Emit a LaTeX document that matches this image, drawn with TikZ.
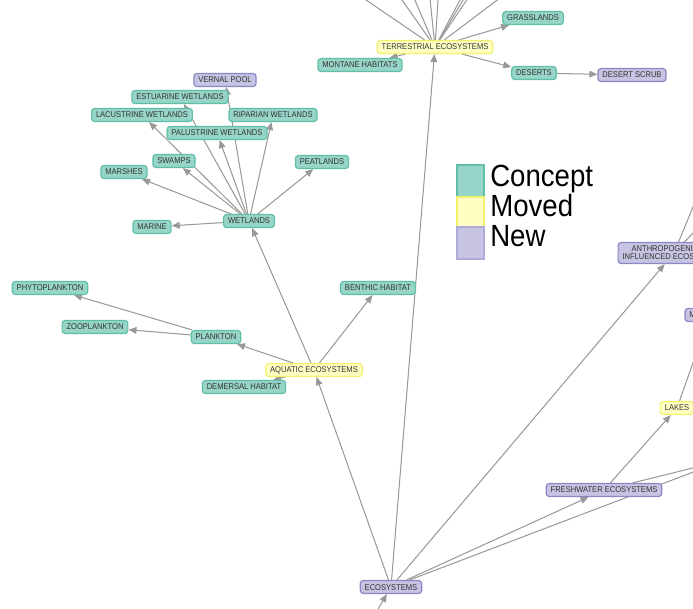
\documentclass[tikz,border=0pt]{standalone}
\usepackage{fontspec}
\newfontfamily\nodefont[FakeStretch=0.9]{Liberation Sans}
\usetikzlibrary{arrows.meta,backgrounds}
\definecolor{conceptfill}{HTML}{97D5C8}
\definecolor{conceptline}{HTML}{5FBFA7}
\definecolor{movedfill}{HTML}{FFFFC4}
\definecolor{movedline}{HTML}{F2F26A}
\definecolor{addedfill}{HTML}{C6C4E2}
\definecolor{addedline}{HTML}{8C88C4}
\definecolor{edgegray}{HTML}{999999}
\definecolor{labeltext}{HTML}{333333}
\begin{document}
\begin{tikzpicture}[x=0.75pt,y=-0.75pt]
      \tikzstyle{cnode} = [rounded corners=2.2pt, line width=0.9pt, inner xsep=3.3pt, inner ysep=2.6pt, text height=4.5pt, text depth=0pt, font=\nodefont\fontsize{6.3}{6}\selectfont, text=labeltext]
      \tikzstyle{concept} = [cnode, draw=conceptline, fill=conceptfill]
      \tikzstyle{moved} = [cnode, draw=movedline, fill=movedfill]
      \tikzstyle{added} = [cnode, draw=addedline, fill=addedfill]
      \tikzstyle{link} = [-{Triangle[length=6pt,width=5pt]}, draw=edgegray, fill=edgegray, line width=0.75pt]
      \tikzstyle{legtext} = [font=\nodefont\fontsize{23}{23}\selectfont, inner sep=0pt, anchor=base west]
      \useasboundingbox (0,0) rectangle (693,609);

      % wetlands
      \node[added] (vern) at (225,80) {VERNAL POOL};
      \node[concept] (estu) at (180,97) {ESTUARINE WETLANDS};
      \node[concept] (lacu) at (142,115) {LACUSTRINE WETLANDS};
      \node[concept] (ripa) at (273,115) {RIPARIAN WETLANDS};
      \node[concept] (palu) at (217,133) {PALUSTRINE WETLANDS};
      \node[concept] (swam) at (174,161) {SWAMPS};
      \node[concept] (mars) at (124,172) {MARSHES};
      \node[concept] (peat) at (322,162) {PEATLANDS};
      \node[concept] (wetl) at (249,221) {WETLANDS};
      \node[concept] (mari) at (152,227) {MARINE};

      % aquatic
      \node[concept] (phyt) at (50,288) {PHYTOPLANKTON};
      \node[concept] (zoop) at (95,327) {ZOOPLANKTON};
      \node[concept] (plan) at (216,337) {PLANKTON};
      \node[concept] (bent) at (378,288) {BENTHIC HABITAT};
      \node[moved] (aqua) at (314,370) {AQUATIC ECOSYSTEMS};
      \node[concept] (deme) at (244,387) {DEMERSAL HABITAT};

      % terrestrial
      \node[moved] (terr) at (435,47) {TERRESTRIAL ECOSYSTEMS};
      \node[concept] (gras) at (533,18) {GRASSLANDS};
      \node[concept] (mont) at (360,65) {MONTANE HABITATS};
      \node[concept] (dese) at (534,73) {DESERTS};
      \node[added] (dscr) at (632,75) {DESERT SCRUB};

      % right side
      \node[added, align=center, text height=10.5pt, text depth=0pt] (anth) at (674,253) {ANTHROPOGENICALLY\\INFLUENCED ECOSYSTEMS};
      \node[added] (mman) at (710,315) {MAN-MADE};
      \node[moved] (lake) at (677,408) {LAKES};
      \node[added] (fres) at (604,490) {FRESHWATER ECOSYSTEMS};
      \node[added] (ecos) at (391,587) {ECOSYSTEMS};

      % ends outside the frame
      \coordinate (tu1) at (322,-30);
      \coordinate (tu2) at (381,-30);
      \coordinate (tu3) at (402,-30);
      \coordinate (tu4) at (427,-30);
      \coordinate (tu5) at (440,-30);
      \coordinate (tu6) at (476,-30);
      \coordinate (tu7) at (481,-30);
      \coordinate (tu8) at (487,-30);
      \coordinate (tu9) at (537,-30);
      \coordinate (an1) at (712,161);
      \coordinate (an2) at (731,193);
      \coordinate (rv) at (725,460);
      \coordinate (root) at (360,640);

      % legend
      \draw[conceptline, fill=conceptfill, line width=0.8pt] (457,165) rectangle (484,197);
      \draw[movedline, fill=movedfill, line width=0.8pt] (457,197) rectangle (484,227);
      \draw[addedline!70, fill=addedfill, line width=0.8pt] (457,227) rectangle (484,259);
      \node[legtext] (lgc) at (490,187) {Concept};
      \node[legtext] (lgm) at (490,217) {Moved};
      \node[legtext] (lgn) at (490,247) {New};

      \begin{pgfonlayer}{background}
      \fill[white] (0,0) rectangle (693,609);
      \draw[link] (wetl) to (vern);
      \draw[link] (wetl) to (estu);
      \draw[link] (wetl) to (lacu);
      \draw[link] (wetl) to (ripa);
      \draw[link] (wetl) to (palu);
      \draw[link] (wetl) to (swam);
      \draw[link] (wetl) to (mars);
      \draw[link] (wetl) to (peat);
      \draw[link] (wetl) to (mari);

      \draw[link] (aqua) to (wetl);
      \draw[link] (aqua) to (plan);
      \draw[link] (aqua) to (bent);
      \draw[link] (aqua) to (deme);
      \draw[link] (plan) to (phyt);
      \draw[link] (plan) to (zoop);

      \draw[link] (terr) to (gras);
      \draw[link] (terr) to (mont);
      \draw[link] (terr) to (dese);
      \draw[link] (dese) to (dscr);
      \draw[link] (terr) to (tu1);
      \draw[link] (terr) to (tu2);
      \draw[link] (terr) to (tu3);
      \draw[link] (terr) to (tu4);
      \draw[link] (terr) to (tu5);
      \draw[link] (terr) to (tu6);
      \draw[link] (terr) to (tu7);
      \draw[link] (terr) to (tu8);
      \draw[link] (terr) to (tu9);

      \draw[link] (ecos) to (aqua);
      \draw[link] (ecos) to (terr);
      \draw[link] (ecos) to (anth);
      \draw[link] (ecos) to (fres);
      \draw[link] (ecos) to (rv);
      \draw[link] (fres) to (rv);
      \draw[link] (fres) to (lake);
      \draw[link] (lake) to (mman);
      \draw[link] (anth) to (an1);
      \draw[link] (anth) to (an2);
      \draw[link] (root) to (ecos);
      \end{pgfonlayer}
    \end{tikzpicture}
\end{document}
